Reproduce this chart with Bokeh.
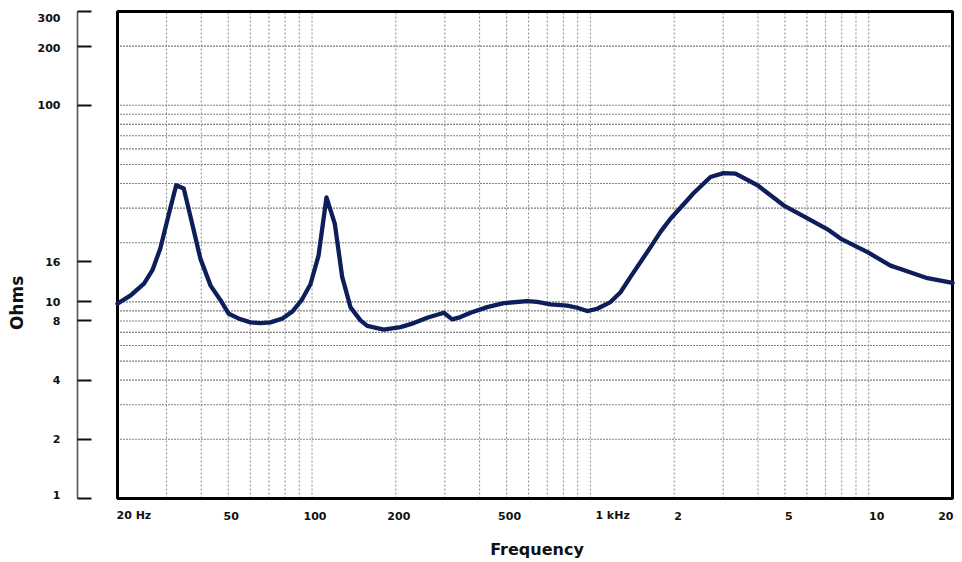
import math
from bokeh.plotting import figure
from bokeh.models import Range1d, FixedTicker, Label, CustomJSTickFormatter, LogAxis
from bokeh.embed import file_html
from bokeh.resources import INLINE

# ---------------- data ----------------
freq_hz = [20, 22.3, 24.9, 26.7, 28.5, 30.6, 32.5, 34.6, 37.1, 39.7,
           43.2, 46.9, 50.2, 54.4, 60.1, 65.3, 70.9, 78.3, 85.1, 91.7,
           98.7, 105.5, 112.7, 120.7, 128.3, 137.5, 149.3, 157.9, 181, 207.8, 232.1,
           259.3, 297.5, 318.8, 341.5, 370.9, 425.9, 488.6, 593, 644, 719,
           826, 897, 974, 1058, 1181, 1283, 1394, 1645, 1786, 1940,
           2228, 2347, 2701, 3008, 3323, 3986, 4943, 6028, 7112, 7921,
           9904, 11974, 13013, 16263, 20000]
impedance_ohms = [9.8, 10.8, 12.4, 14.5, 18.7, 28.1, 39.2, 37.7, 25.0, 16.6,
                  12.1, 10.2, 8.7, 8.24, 7.87, 7.79, 7.87, 8.24, 8.95, 10.2,
                  12.3, 17.2, 34.0, 25.0, 13.4, 9.38, 8.05, 7.55, 7.22, 7.44, 7.80,
                  8.31, 8.81, 8.15, 8.37, 8.81, 9.41, 9.86, 10.09, 10.0, 9.71,
                  9.57, 9.34, 8.98, 9.23, 9.98, 11.2, 13.4, 19.0, 22.7, 26.5,
                  32.9, 35.7, 43.2, 45.2, 44.9, 39.2, 31.0, 26.6, 23.4, 21.0,
                  17.9, 15.3, 14.7, 13.2, 12.5]

x_ticks = [20, 50, 100, 200, 500, 1000, 2000, 5000, 10000, 20000]
x_tick_labels = ["20 Hz", "50", "100", "200", "500", "1 kHz", "2", "5", "10", "20"]
y_ticks = [1, 2, 4, 8, 10, 16, 100, 200, 300]
y_tick_labels = ["1", "2", "4", "8", "10", "16", "100", "200", "300"]
h_grid = [2, 3, 4, 5, 6, 7, 8, 9, 10, 20, 30, 40, 50, 60, 70, 80, 90, 100, 200]
v_grid = [30, 40, 50, 60, 70, 80, 90, 100,
          200, 300, 400, 500, 600, 700, 800, 900, 1000,
          2000, 3000, 4000, 5000, 6000, 7000, 8000, 9000, 10000]
F_MIN, F_MAX = 20, 20000
Z_MIN, Z_MAX = 1, 300

# ---------------- layout (pixels, canvas = frame) ----------------
W, H = 962, 562
BOX_L, BOX_R, BOX_T, BOX_B = 117, 952, 11, 498
AXIS_X = 77

xdec = math.log10(F_MAX / F_MIN) / (BOX_R - BOX_L)
x_lo = F_MIN * 10 ** (-BOX_L * xdec)
x_hi = F_MAX * 10 ** ((W - BOX_R) * xdec)
ydec = math.log10(Z_MAX / Z_MIN) / (BOX_B - BOX_T)
y_lo = Z_MIN * 10 ** (-(H - BOX_B) * ydec)
y_hi = Z_MAX * 10 ** (BOX_T * ydec)
x_axis_pos = F_MIN * 10 ** (-(BOX_L - AXIS_X) * xdec)

FONT = "DejaVu Sans"

p = figure(width=W, height=H, x_axis_type="log", y_axis_type="log",
           x_axis_location=None, y_axis_location=None,
           output_backend="svg", toolbar_location=None,
           x_range=Range1d(x_lo, x_hi), y_range=Range1d(y_lo, y_hi),
           min_border=0)
p.outline_line_color = None
p.grid.visible = False
p.background_fill_color = "white"
p.border_fill_color = "white"

ax = LogAxis(fixed_location=x_axis_pos,
             ticker=FixedTicker(ticks=y_ticks, minor_ticks=[]),
             formatter=CustomJSTickFormatter(code="return ''"),
             bounds=(Z_MIN, Z_MAX))
ax.major_tick_in = 14
ax.major_tick_out = 0
ax.minor_tick_line_color = None
ax.major_tick_line_color = "#111111"
ax.major_tick_line_width = 2
ax.axis_line_color = "#555555"
ax.axis_line_width = 1.6
ax.major_label_text_font_size = "1px"
p.add_layout(ax, "left")

# grid lines
p.segment(x0=[F_MIN] * len(h_grid), y0=h_grid, x1=[F_MAX] * len(h_grid), y1=h_grid,
          line_color="#000000", line_width=1.1, line_dash="1 2")
p.segment(x0=v_grid, y0=[Z_MIN] * len(v_grid), x1=v_grid, y1=[Z_MAX] * len(v_grid),
          line_color="#8a8a8a", line_width=1, line_dash="2 2")

# plot box
p.quad(left=[F_MIN], right=[F_MAX], bottom=[Z_MIN], top=[Z_MAX],
       fill_color=None, line_color="black", line_width=3)

# curve
p.line(freq_hz, impedance_ohms, line_color="#0d1e5b", line_width=4.3,
       line_join="round", line_cap="round")

# x tick labels
x_lab_style = [("left", -1), ("center", 3), ("center", 3), ("center", 3), ("center", 3),
               ("left", 5), ("center", 4), ("center", 4), ("center", 8), ("right", 1)]
for xv, txt, (al, off) in zip(x_ticks, x_tick_labels, x_lab_style):
    p.add_layout(Label(x=xv, y=Z_MIN, text=txt, x_offset=off, y_offset=-17,
                       text_align=al, text_baseline="middle",
                       text_font=FONT, text_font_style="bold", text_font_size="11px",
                       text_color="#111111"))

# y tick labels
y_lab_off = {"300": -6, "200": -2, "1": 4}
for yv, txt in zip(y_ticks, y_tick_labels):
    p.add_layout(Label(x=x_axis_pos, y=yv, text=txt, x_offset=-17, y_offset=y_lab_off.get(txt, 0),
                       text_align="right", text_baseline="middle",
                       text_font=FONT, text_font_style="bold", text_font_size="11px",
                       text_color="#111111"))

# axis titles
p.add_layout(Label(x=x_axis_pos, y=10, text="Ohms", x_offset=-61, y_offset=-1,
                   angle=math.pi / 2, text_align="center", text_baseline="middle",
                   text_font=FONT, text_font_style="bold", text_font_size="17px",
                   text_color="#111111"))
p.add_layout(Label(x=math.sqrt(F_MIN * F_MAX), y=Z_MIN, text="Frequency", x_offset=2, y_offset=-51,
                   text_align="center", text_baseline="middle",
                   text_font=FONT, text_font_style="bold", text_font_size="16px",
                   text_color="#111111"))

open("out.html", "w").write(file_html(p, INLINE))
